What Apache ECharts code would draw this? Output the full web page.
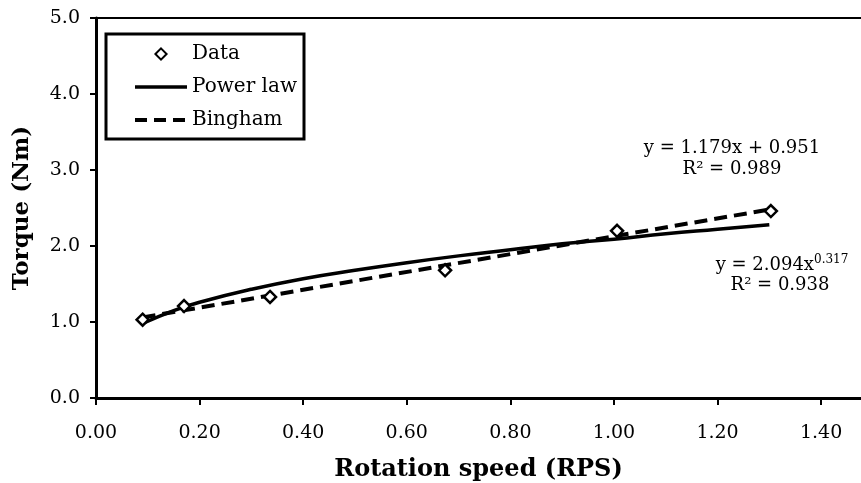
<!DOCTYPE html>
<html>
<head>
<meta charset="utf-8">
<script src="https://cdn.jsdelivr.net/npm/echarts@6/dist/echarts.min.js"></script>
<style>
  html, body { margin: 0; padding: 0; background: #fff; }
  #chart { width: 861px; height: 483px; }
</style>
</head>
<body>
<div id="chart"></div>
<script>
// measured points
const speed = [0.09, 0.17, 0.336, 0.674, 1.006, 1.303];
const torque = [1.03, 1.21, 1.33, 1.68, 2.20, 2.46];

// trend lines
const powerX = [0.09, 0.15, 0.2, 0.3, 0.4, 0.5, 0.6, 0.7, 0.8, 0.9, 1.0, 1.1, 1.2, 1.3];
const powerY = [0.98, 1.15, 1.26, 1.43, 1.57, 1.68, 1.78, 1.87, 1.95, 2.03, 2.09, 2.16, 2.22, 2.28];
const binghamX = [0.09, 1.30];
const binghamY = [1.06, 2.48];

const binghamEq = ['y = 1.179x + 0.951', 'R² = 0.989'];
const powerEq = ['y = 2.094x', '0.317', 'R² = 0.938'];

const font = 'DejaVu Serif';
const pairs = (xs, ys) => xs.map((x, i) => [x, ys[i]]);
const xMax = 1.477; // plot runs off the right edge of the picture

const chart = echarts.init(document.getElementById('chart'));
chart.setOption({
  animation: false,
  backgroundColor: '#fff',
  grid: { left: 96, right: 0, top: 18, bottom: 85, outerBoundsMode: 'none' },
  legend: {
    orient: 'vertical',
    left: 106, top: 34,
    padding: [10, 7, 9, 27],
    itemWidth: 52, itemHeight: 14, itemGap: 13,
    borderColor: '#000', borderWidth: 3, backgroundColor: '#fff',
    textStyle: { fontFamily: font, fontSize: 20, color: '#000' },
    data: [
      { name: 'Data' },
      { name: 'Power law', itemStyle: { opacity: 0 }, lineStyle: { width: 3.5, color: '#000' } },
      { name: 'Bingham', itemStyle: { opacity: 0 }, lineStyle: { width: 4, color: '#000', type: [12, 7] } }
    ]
  },
  xAxis: [
    {
      type: 'value',
      min: 0, max: xMax, interval: 0.2,
      name: 'Rotation speed (RPS)',
      nameLocation: 'middle', nameGap: 60,
      nameTextStyle: { fontFamily: font, fontSize: 24, fontWeight: 'bold', color: '#000' },
      axisLine: { lineStyle: { color: '#000', width: 3 } },
      axisTick: { show: true, length: 7, lineStyle: { color: '#000', width: 2 } },
      axisLabel: {
        showMaxLabel: false, margin: 26,
        fontFamily: font, fontSize: 19, color: '#000',
        formatter: (v) => v.toFixed(2)
      },
      splitLine: { show: false }
    },
    {
      type: 'value',
      position: 'top',
      min: 0, max: xMax,
      axisLine: { show: true, lineStyle: { color: '#000', width: 2 } },
      axisTick: { show: false },
      axisLabel: { show: false },
      splitLine: { show: false }
    }
  ],
  yAxis: {
    type: 'value',
    min: 0, max: 5, interval: 1,
    name: 'Torque (Nm)',
    nameLocation: 'middle', nameGap: 62,
    nameTextStyle: { fontFamily: font, fontSize: 23, fontWeight: 'bold', color: '#000' },
    axisLine: { show: true, lineStyle: { color: '#000', width: 3 } },
    axisTick: { show: true, length: 6, lineStyle: { color: '#000', width: 2 } },
    axisLabel: {
      margin: 16,
      fontFamily: font, fontSize: 19, color: '#000',
      formatter: (v) => v.toFixed(1)
    },
    splitLine: { show: false }
  },
  series: [
    {
      name: 'Power law',
      type: 'line',
      smooth: true,
      symbol: 'none',
      lineStyle: { color: '#000', width: 3.5 },
      itemStyle: { color: '#000' },
      data: pairs(powerX, powerY),
      z: 2
    },
    {
      name: 'Bingham',
      type: 'line',
      symbol: 'none',
      lineStyle: { color: '#000', width: 4, type: [13, 7] },
      itemStyle: { color: '#000' },
      data: pairs(binghamX, binghamY),
      z: 3
    },
    {
      name: 'Data',
      type: 'line',
      symbol: 'diamond',
      symbolSize: 12,
      showSymbol: true,
      lineStyle: { width: 0, opacity: 0 },
      itemStyle: { color: '#fff', borderColor: '#000', borderWidth: 2.5 },
      data: pairs(speed, torque),
      z: 5
    }
  ],
  graphic: [
    {
      type: 'text', x: 732, y: 148,
      style: { text: binghamEq[0], align: 'center', verticalAlign: 'middle', fontFamily: font, fontSize: 18, fill: '#000' }
    },
    {
      type: 'text', x: 732, y: 169,
      style: { text: binghamEq[1], align: 'center', verticalAlign: 'middle', fontFamily: font, fontSize: 18, fill: '#000' }
    },
    {
      type: 'text', x: 782, y: 265,
      style: {
        text: '{b|' + powerEq[0] + '}{s|' + powerEq[1] + '}',
        align: 'center', verticalAlign: 'middle', fill: '#000',
        rich: {
          b: { fontFamily: font, fontSize: 18, fill: '#000' },
          s: { fontFamily: font, fontSize: 12, fill: '#000', padding: [0, 0, 10, 0] }
        }
      }
    },
    {
      type: 'text', x: 780, y: 285,
      style: { text: powerEq[2], align: 'center', verticalAlign: 'middle', fontFamily: font, fontSize: 18, fill: '#000' }
    }
  ]
});
window.addEventListener('resize', () => chart.resize());
</script>
</body>
</html>
